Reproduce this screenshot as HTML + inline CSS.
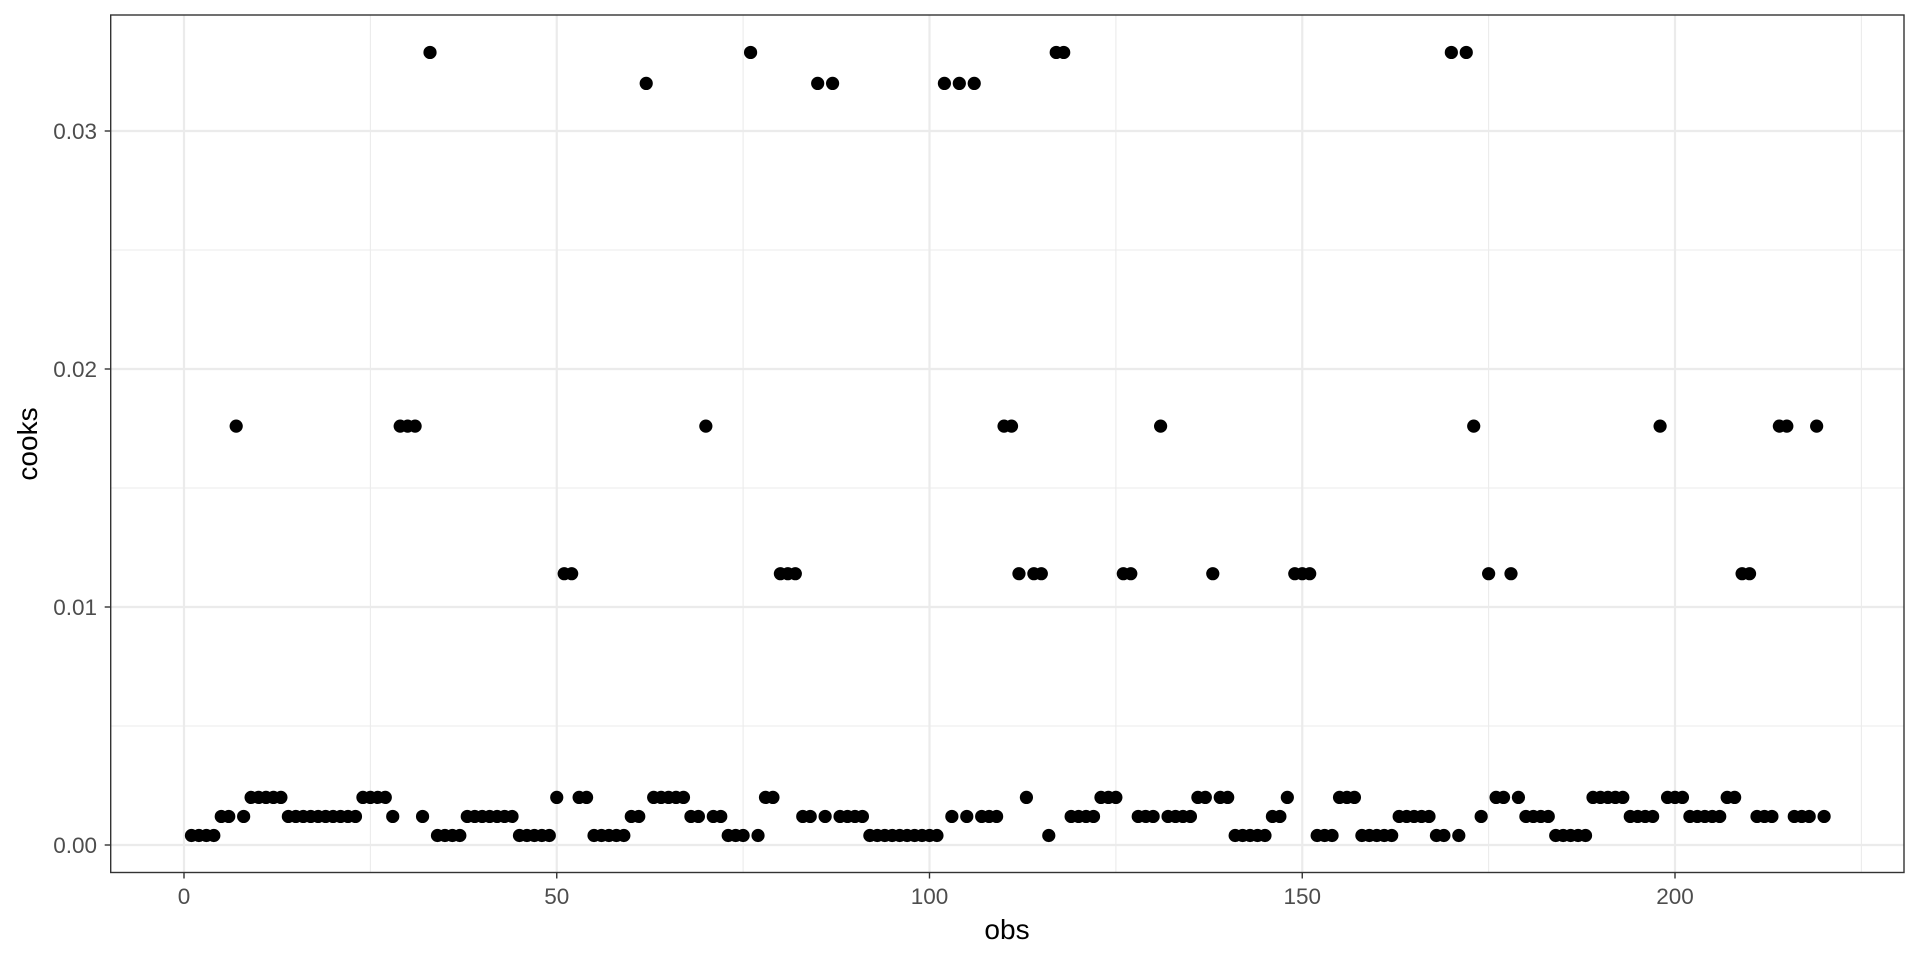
<!DOCTYPE html>
<html><head><meta charset="utf-8"><style>
html,body{margin:0;padding:0;background:#fff;}
svg{display:block;font-family:"Liberation Sans",sans-serif;}
</style></head><body>
<svg id="chart" width="1920" height="960" viewBox="0 0 1920 960">
<rect x="0" y="0" width="1920" height="960" fill="#fff"/>
<g id="grid"></g>
<g id="points"></g>
<rect x="110.7" y="15" width="1793.3" height="857.5" fill="none" stroke="#333" stroke-width="1.4"/>
<g id="axes"></g>
<text x="1007" y="939" font-size="28" text-anchor="middle" fill="#000">obs</text>
<text x="0" y="0" font-size="28" text-anchor="middle" fill="#000" transform="translate(37,444) rotate(-90)">cooks</text>
</svg>
<script>
const xTicks = [0, 50, 100, 150, 200];
const xMinor = [25, 75, 125, 175, 225];
const yTicks = [0, 0.01, 0.02, 0.03];
const yTickLabels = ["0.00", "0.01", "0.02", "0.03"];
const yMinor = [0.005, 0.015, 0.025];
const cooks = [
0.0004,0.0004,0.0004,0.0004, 0.0012,0.0012, 0.0176, 0.0012,
0.002,0.002,0.002,0.002,0.002,
0.0012,0.0012,0.0012,0.0012,0.0012,0.0012,0.0012,0.0012,0.0012,0.0012,
0.002,0.002,0.002,0.002, 0.0012, 0.0176,0.0176,0.0176, 0.0012, 0.0333,
0.0004,0.0004,0.0004,0.0004,
0.0012,0.0012,0.0012,0.0012,0.0012,0.0012,0.0012,
0.0004,0.0004,0.0004,0.0004,0.0004,
0.002, 0.0114,0.0114, 0.002,0.002,
0.0004,0.0004,0.0004,0.0004,0.0004, 0.0012,0.0012, 0.032,
0.002,0.002,0.002,0.002,0.002, 0.0012,0.0012, 0.0176, 0.0012,0.0012,
0.0004,0.0004,0.0004, 0.0333, 0.0004, 0.002,0.002,
0.0114,0.0114,0.0114, 0.0012,0.0012, 0.032, 0.0012, 0.032,
0.0012,0.0012,0.0012,0.0012,
0.0004,0.0004,0.0004,0.0004,0.0004,0.0004,0.0004,0.0004,0.0004,0.0004,
0.032, 0.0012, 0.032, 0.0012, 0.032, 0.0012,0.0012,0.0012,
0.0176,0.0176, 0.0114, 0.002, 0.0114,0.0114, 0.0004, 0.0333,0.0333,
0.0012,0.0012,0.0012,0.0012, 0.002,0.002,0.002, 0.0114,0.0114,
0.0012,0.0012,0.0012, 0.0176, 0.0012,0.0012,0.0012,0.0012,
0.002,0.002, 0.0114, 0.002,0.002,
0.0004,0.0004,0.0004,0.0004,0.0004, 0.0012,0.0012, 0.002,
0.0114,0.0114,0.0114, 0.0004,0.0004,0.0004, 0.002,0.002,0.002,
0.0004,0.0004,0.0004,0.0004,0.0004, 0.0012,0.0012,0.0012,0.0012,0.0012,
0.0004,0.0004, 0.0333, 0.0004, 0.0333, 0.0176, 0.0012, 0.0114,
0.002,0.002, 0.0114, 0.002, 0.0012,0.0012,0.0012,0.0012,
0.0004,0.0004,0.0004,0.0004,0.0004, 0.002,0.002,0.002,0.002,0.002,
0.0012,0.0012,0.0012,0.0012, 0.0176, 0.002,0.002,0.002,
0.0012,0.0012,0.0012,0.0012,0.0012, 0.002,0.002, 0.0114,0.0114,
0.0012,0.0012,0.0012, 0.0176,0.0176, 0.0012,0.0012,0.0012, 0.0176, 0.0012
];
const obs = cooks.map((v, i) => i + 1);

const NS = "http://www.w3.org/2000/svg";
const X0 = 184, XS = 7.455;
const Y0 = 845, YS = 23800;
const xPos = v => X0 + v * XS;
const yPos = v => Y0 - v * YS;
const L = 110.7, R = 1904, T = 15, B = 872.5;

function mk(tag, attrs, parent) {
  const el = document.createElementNS(NS, tag);
  for (const k in attrs) el.setAttribute(k, attrs[k]);
  parent.appendChild(el);
  return el;
}
const grid = document.getElementById('grid');
const axes = document.getElementById('axes');
const pts = document.getElementById('points');

yMinor.forEach(v => {
  const l = mk('line', {x1: L, x2: R, y1: yPos(v), y2: yPos(v), stroke: '#ebebeb', 'stroke-width': 1.1}, grid);
  
  
});
xMinor.forEach(v => {
  const l = mk('line', {x1: xPos(v), x2: xPos(v), y1: T, y2: B, stroke: '#ebebeb', 'stroke-width': 1.1}, grid);
  
  
});
yTicks.forEach((v, i) => {
  const l = mk('line', {x1: L, x2: R, y1: yPos(v), y2: yPos(v), stroke: '#ebebeb', 'stroke-width': 2.2}, grid);
  
  
  const t = mk('line', {x1: L - 6, x2: L, y1: yPos(v), y2: yPos(v), stroke: '#333', 'stroke-width': 1.4}, axes);
  
  
  const tx = mk('text', {x: 97, y: yPos(v) + 8, 'font-size': 22.5, 'text-anchor': 'end', fill: '#4d4d4d'}, axes);
  tx.textContent = yTickLabels[i];
  
  
});
xTicks.forEach(v => {
  const l = mk('line', {x1: xPos(v), x2: xPos(v), y1: T, y2: B, stroke: '#ebebeb', 'stroke-width': 2.2}, grid);
  
  
  const t = mk('line', {x1: xPos(v), x2: xPos(v), y1: B, y2: B + 6, stroke: '#333', 'stroke-width': 1.4}, axes);
  
  
  const tx = mk('text', {x: xPos(v), y: 904, 'font-size': 22.5, 'text-anchor': 'middle', fill: '#4d4d4d'}, axes);
  tx.textContent = String(v);
  
  
});
cooks.forEach((v, i) => {
  const c = mk('circle', {cx: xPos(obs[i]), cy: yPos(v), r: 6.6, fill: '#000'}, pts);
  
  
});
</script>
</body></html>
